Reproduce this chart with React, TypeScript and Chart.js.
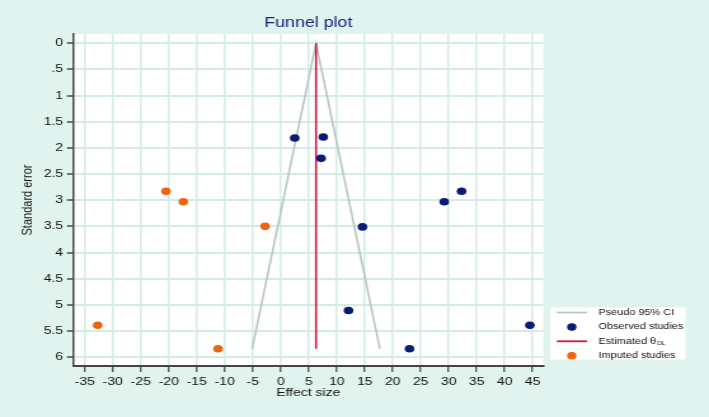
import React, { useEffect, useRef } from "react";
import { Chart, registerables } from "chart.js";

Chart.register(...registerables);

// ---- data ----
const observedEffect = [2.5, 7.6, 7.2, 14.6, 29.2, 32.3, 12.1, 23.0, 44.5];
const observedSE = [1.81, 1.79, 2.2, 3.51, 3.03, 2.83, 5.11, 5.84, 5.39];
const imputedEffect = [-20.5, -17.4, -2.8, -32.7, -11.2];
const imputedSE = [2.83, 3.03, 3.5, 5.39, 5.84];
const thetaDL = 6.3;
const ciEffect = [-5.1, 6.3, 17.7];
const ciSE = [5.84, 0, 5.84];
const thetaLineSE = [0, 5.84];
const xTickValues = [-35, -30, -25, -20, -15, -10, -5, 0, 5, 10, 15, 20, 25, 30, 35, 40, 45];
const yTickValues = [0, 0.5, 1, 1.5, 2, 2.5, 3, 3.5, 4, 4.5, 5, 5.5, 6];
const yTickLabels = ["0", ".5", "1", "1.5", "2", "2.5", "3", "3.5", "4", "4.5", "5", "5.5", "6"];
const legendLabels = ["Pseudo 95% CI", "Observed studies", "Estimated θ", "Imputed studies"];

// ---- styling ----
const STRETCH = 709 / 558;
const CW = 558;
const CH = 417;
const BG = "#e1f3ee";
const GRID = "#d5ece6";
const NAVY = "#0b1a74";
const ORANGE = "#ec6410";
const RED = "#d3133a";
const GRAY = "#b4c4c2";
const AXIS = "#444444";
const FONT = "'Liberation Sans', Arial, sans-serif";

const decor = {
  id: "decor",
  beforeDraw(chart: any) {
    const { ctx, chartArea: a, width, height } = chart;
    ctx.save();
    ctx.fillStyle = BG;
    ctx.fillRect(0, 0, width, height);
    ctx.fillStyle = "#ffffff";
    ctx.fillRect(a.left, a.top, a.right - a.left, a.bottom - a.top);
    ctx.restore();
  },
  afterDraw(chart: any) {
    const { ctx, chartArea: a } = chart;
    const cx = (a.left + a.right) / 2;
    ctx.save();
    // title
    ctx.fillStyle = "#1a237e";
    ctx.font = `14px ${FONT}`;
    ctx.textAlign = "center";
    ctx.textBaseline = "middle";
    ctx.fillText("Funnel plot", cx, 23);
    // x axis title
    ctx.fillStyle = "#111111";
    ctx.font = `11px ${FONT}`;
    ctx.fillText("Effect size", cx, 393);
    // y axis title
    ctx.save();
    ctx.translate(22, (a.top + a.bottom) / 2);
    ctx.rotate(-Math.PI / 2);
    ctx.fillText("Standard error", 0, 0);
    ctx.restore();

    // legend
    const bx = 433, by = 307.5, bw = 106.5, bh = 52;
    ctx.fillStyle = "#ffffff";
    ctx.fillRect(bx, by, bw, bh);
    const rows = [312.5, 327, 341.3, 355.7];
    const symL = 438.3, symR = 462, symC = 450, textX = 471;
    ctx.lineWidth = 1.8;
    ctx.strokeStyle = GRAY;
    ctx.beginPath(); ctx.moveTo(symL, rows[0]); ctx.lineTo(symR, rows[0]); ctx.stroke();
    ctx.fillStyle = NAVY;
    ctx.beginPath(); ctx.arc(symC, rows[1], 3.7, 0, Math.PI * 2); ctx.fill();
    ctx.strokeStyle = RED;
    ctx.beginPath(); ctx.moveTo(symL, rows[2]); ctx.lineTo(symR, rows[2]); ctx.stroke();
    ctx.fillStyle = ORANGE;
    ctx.beginPath(); ctx.arc(symC, rows[3], 3.7, 0, Math.PI * 2); ctx.fill();

    ctx.fillStyle = "#111111";
    ctx.font = `8.6px ${FONT}`;
    ctx.textAlign = "left";
    ctx.textBaseline = "middle";
    legendLabels.forEach((t, i) => ctx.fillText(t, textX, rows[i]));
    const w = ctx.measureText(legendLabels[2]).width;
    ctx.font = `5px ${FONT}`;
    ctx.fillText("DL", textX + w + 0.8, rows[2] + 2.6);
    ctx.restore();
  },
};

export default function App() {
  const ref = useRef<HTMLCanvasElement | null>(null);

  useEffect(() => {
    if (!ref.current) return;
    const chart = new Chart(ref.current, {
      type: "scatter",
      data: {
        datasets: [
          {
            label: "Observed studies",
            data: observedEffect.map((x, i) => ({ x, y: observedSE[i] })),
            backgroundColor: NAVY,
            borderColor: NAVY,
            pointRadius: 3.8,
            pointBorderWidth: 0,
            order: 0,
          },
          {
            label: "Imputed studies",
            data: imputedEffect.map((x, i) => ({ x, y: imputedSE[i] })),
            backgroundColor: ORANGE,
            borderColor: ORANGE,
            pointRadius: 3.8,
            pointBorderWidth: 0,
            order: 1,
          },
          {
            label: "Estimated θDL",
            data: thetaLineSE.map((y) => ({ x: thetaDL, y })),
            showLine: true,
            borderColor: RED,
            borderWidth: 1.6,
            pointRadius: 0,
            order: 2,
          },
          {
            label: "Pseudo 95% CI",
            data: ciEffect.map((x, i) => ({ x, y: ciSE[i] })),
            showLine: true,
            borderColor: GRAY,
            borderWidth: 1.5,
            pointRadius: 0,
            order: 3,
          },
        ],
      },
      options: {
        responsive: false,
        animation: false,
        devicePixelRatio: 1,
        layout: { padding: { left: 0, top: 34, right: CW - 427.6, bottom: 0 } },
        plugins: { legend: { display: false }, title: { display: false }, tooltip: { enabled: false } },
        scales: {
          x: {
            type: "linear",
            min: -37.05,
            max: 46.9,
            afterBuildTicks: (s: any) => {
              s.ticks = xTickValues.map((v) => ({ value: v }));
            },
            afterFit: (s: any) => {
              s.height = CH - 366;
              s.paddingLeft = 0;
              s.paddingRight = 0;
            },
            ticks: {
              callback: (v: any) => String(v),
              color: "#111111",
              font: { family: FONT, size: 11 },
              padding: 3,
              maxRotation: 0,
              autoSkip: false,
            },
            grid: { color: GRID, lineWidth: 1.5, tickColor: AXIS, tickLength: 6, tickWidth: 1.2 },
            border: { display: true, color: AXIS, width: 2 },
          },
          y: {
            type: "linear",
            reverse: true,
            min: -0.178,
            max: 6.17,
            afterBuildTicks: (s: any) => {
              s.ticks = yTickValues.map((v) => ({ value: v }));
            },
            afterFit: (s: any) => {
              s.width = 57.7;
              s.paddingTop = 0;
              s.paddingBottom = 0;
            },
            ticks: {
              callback: (_v: any, i: number) => yTickLabels[i],
              color: "#111111",
              font: { family: FONT, size: 11 },
              padding: 3,
              autoSkip: false,
            },
            grid: { color: GRID, lineWidth: 2, tickColor: AXIS, tickLength: 5, tickWidth: 1.5 },
            border: { display: true, color: AXIS, width: 1.5 },
          },
        },
      },
      plugins: [decor],
    });
    return () => chart.destroy();
  }, []);

  return (
    <div
      style={{
        position: "fixed",
        left: 0,
        top: 0,
        width: CW,
        height: CH,
        transform: `scaleX(${STRETCH})`,
        transformOrigin: "0 0",
      }}
    >
      <canvas ref={ref} width={CW} height={CH} style={{ display: "block" }} />
    </div>
  );
}
